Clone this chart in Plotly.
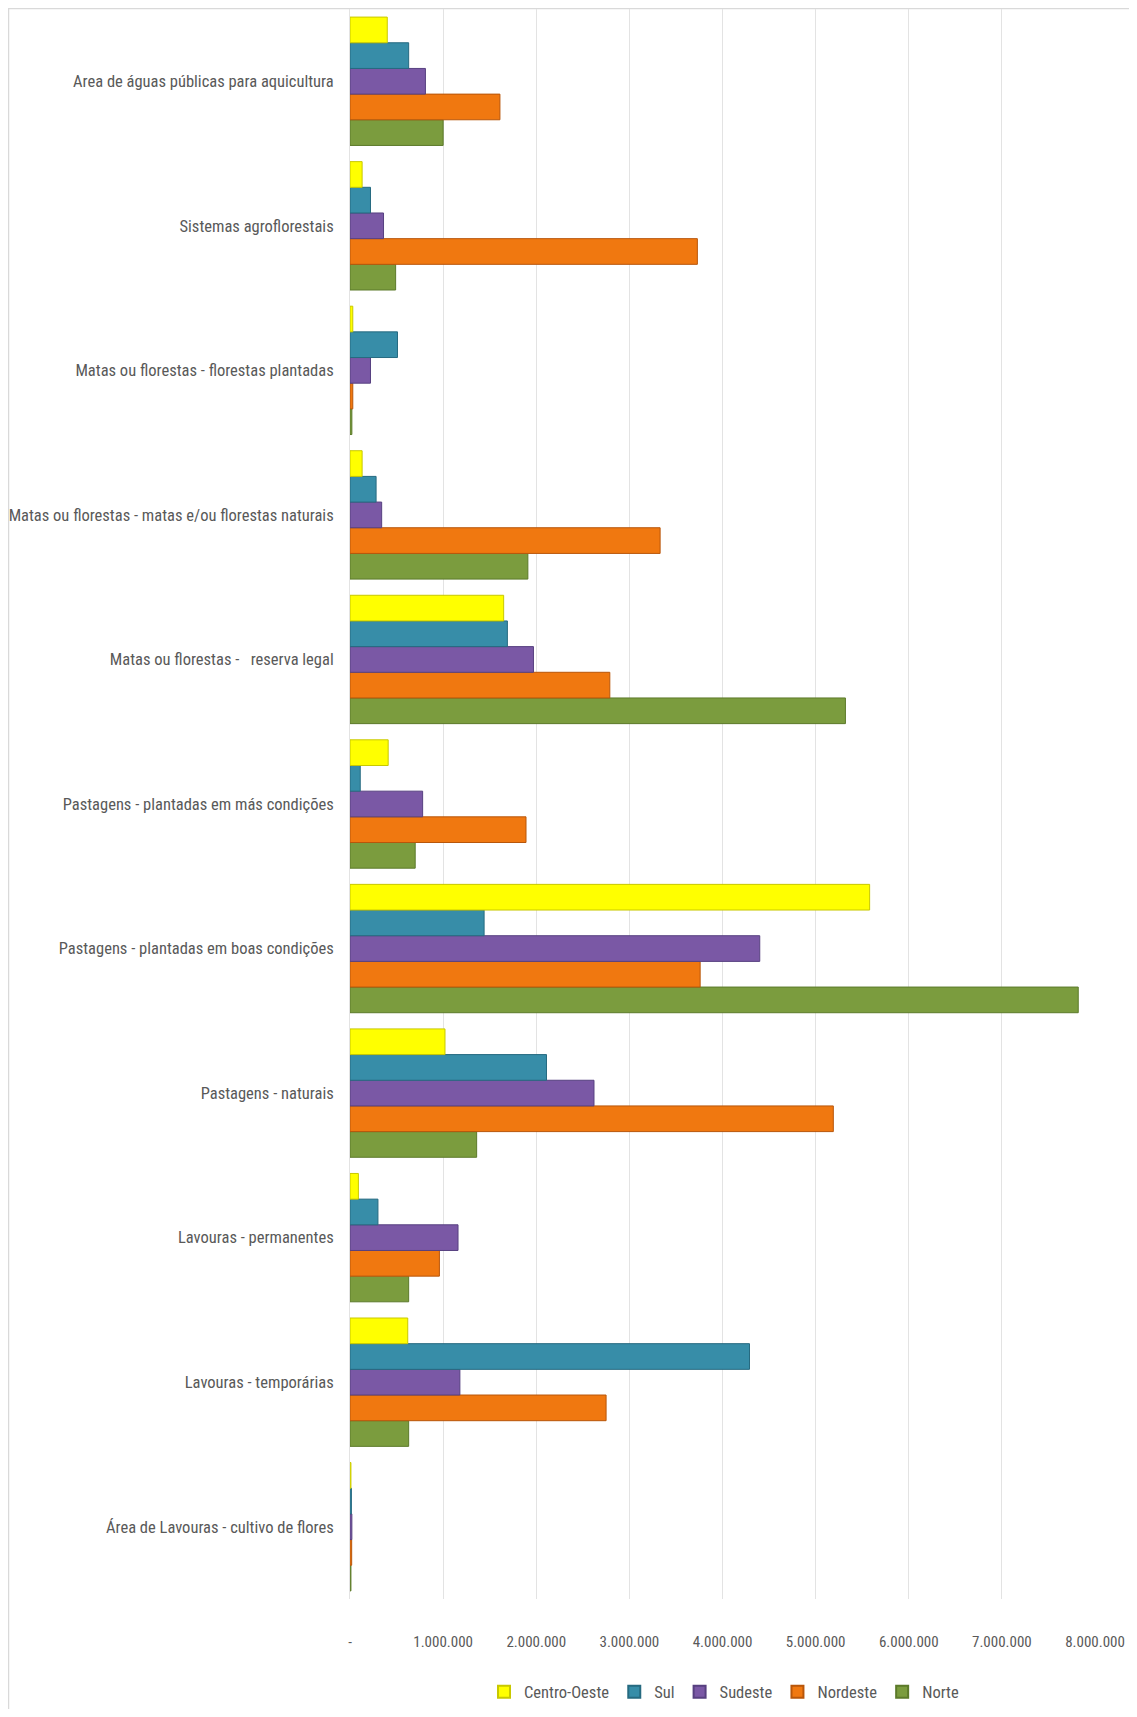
import plotly.graph_objects as go

categories = [
    "Área de Lavouras - cultivo de flores",
    "Lavouras - temporárias",
    "Lavouras - permanentes",
    "Pastagens - naturais",
    "Pastagens - plantadas em boas condições",
    "Pastagens - plantadas em más condições",
    "Matas ou florestas -   reserva legal",
    "Matas ou florestas - matas e/ou florestas naturais",
    "Matas ou florestas - florestas plantadas",
    "Sistemas agroflorestais",
    "Area de águas públicas para aquicultura",
]

norte = [10000, 630000, 630000, 1360000, 7820000, 700000, 5320000, 1910000, 20000, 490000, 1000000]
nordeste = [18000, 2750000, 960000, 5190000, 3760000, 1890000, 2790000, 3330000, 30000, 3730000, 1610000]
sudeste = [20000, 1180000, 1160000, 2620000, 4400000, 780000, 1970000, 340000, 220000, 360000, 810000]
sul = [15000, 4290000, 300000, 2110000, 1440000, 110000, 1690000, 280000, 510000, 220000, 630000]
centro_oeste = [10000, 620000, 90000, 1020000, 5580000, 410000, 1650000, 130000, 30000, 130000, 400000]

series_names = ["Norte", "Nordeste", "Sudeste", "Sul", "Centro-Oeste"]
series_values = [norte, nordeste, sudeste, sul, centro_oeste]
series_colors = ["#7B9C3E", "#F07810", "#7A58A5", "#378DA8", "#FFFF00"]
series_lines = ["#5C7A2A", "#B8560A", "#574080", "#266A80", "#C8C800"]

tick_vals = [0, 1000000, 2000000, 3000000, 4000000, 5000000, 6000000, 7000000, 8000000]
tick_text = ["-", "1.000.000", "2.000.000", "3.000.000", "4.000.000",
             "5.000.000", "6.000.000", "7.000.000", "8.000.000"]

# page body has an 8px margin, so the figure is drawn 8px in from the window edge
W, H = 1121, 1701
ML, MR, MT, MB = 342, 34, 1, 110
pw = W - ML - MR
ph = H - MT - MB

FONT = "Liberation Sans Narrow, Arial Narrow, Roboto Condensed, DejaVu Sans Condensed, sans-serif"
GRAY = "#595959"

fig = go.Figure()
for name, vals, col, lc in zip(series_names, series_values, series_colors, series_lines):
    fig.add_trace(go.Bar(
        y=categories, x=vals, name=name, orientation="h",
        marker=dict(color=col, line=dict(color=lc, width=1)),
    ))

def px_x(p):
    return (p - ML) / pw

def px_y(p):
    return (H - MB - p) / ph

fig.add_shape(type="rect", xref="paper", yref="paper",
              x0=px_x(0.5), x1=px_x(1128), y0=px_y(1760), y1=px_y(0.5),
              line=dict(color="#D9D9D9", width=1.5), layer="below")

fig.update_layout(
    width=W, height=H,
    margin=dict(l=ML, r=MR, t=MT, b=MB, autoexpand=False),
    paper_bgcolor="white", plot_bgcolor="white",
    barmode="group", bargap=0.112, bargroupgap=0,
    font=dict(family=FONT, color=GRAY, size=17),
    xaxis=dict(
        range=[0, 8000000], tickvals=tick_vals, ticktext=tick_text,
        showgrid=True, gridcolor="#E3E3E3", gridwidth=1,
        zeroline=False, showline=False, ticks="",
        ticklabelstandoff=32,
        tickfont=dict(family=FONT, size=15, color=GRAY),
        fixedrange=True,
    ),
    yaxis=dict(
        type="category", categoryorder="array", categoryarray=categories,
        showgrid=False, zeroline=False,
        showline=True, linecolor="#E3E3E3", linewidth=1,
        ticks="", ticklabelstandoff=12,
        tickfont=dict(family=FONT, size=16.5, color=GRAY),
        fixedrange=True,
    ),
    legend=dict(
        orientation="h", traceorder="reversed",
        x=px_x(716), xanchor="center",
        y=px_y(1684), yanchor="middle",
        font=dict(family=FONT, size=16.5, color=GRAY),
        itemwidth=30, itemsizing="constant",
        bgcolor="rgba(0,0,0,0)",
    ),
    showlegend=True,
)

fig.write_html("out.html")
